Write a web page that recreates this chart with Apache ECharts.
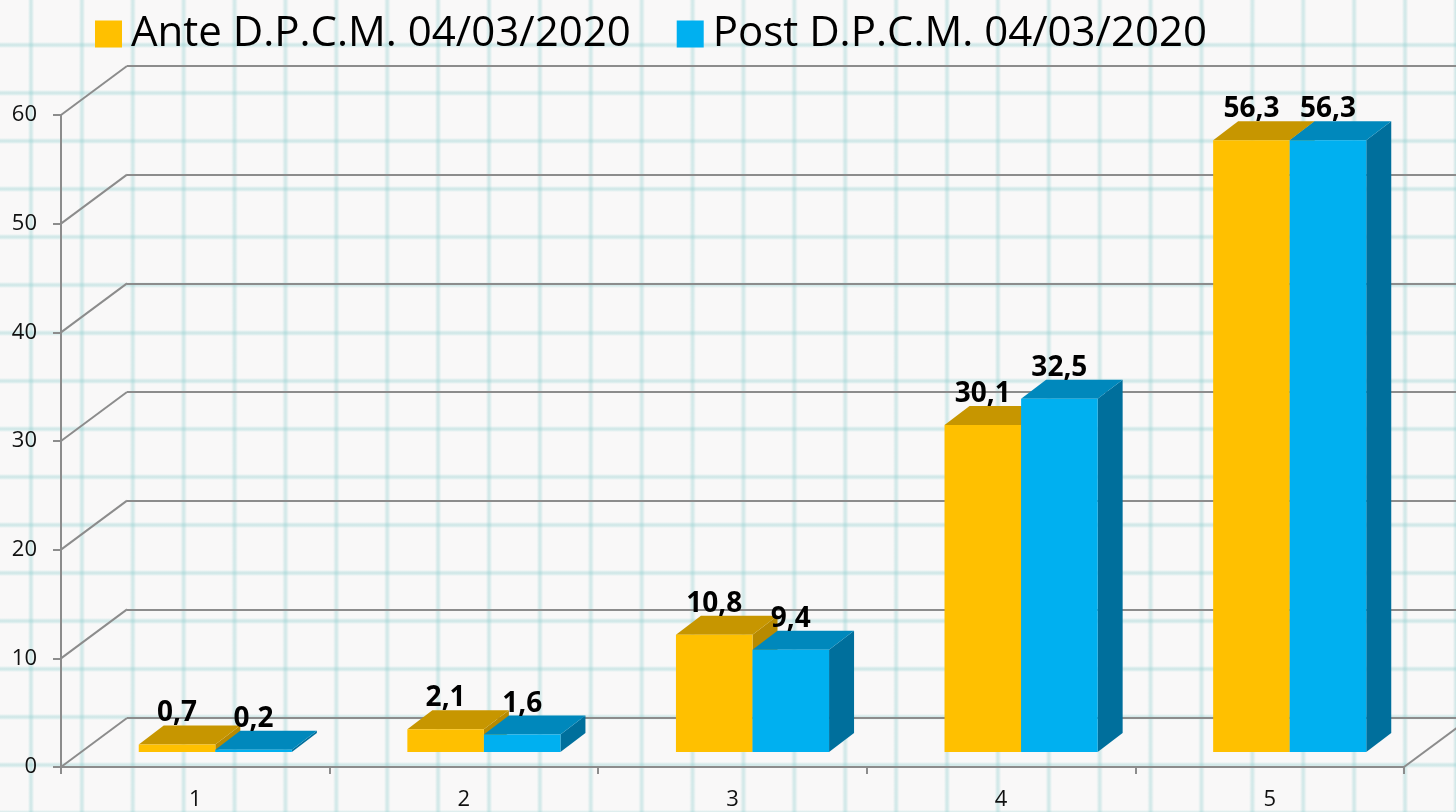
<!DOCTYPE html>
<html>
<head>
<meta charset="utf-8">
<script src="https://cdn.jsdelivr.net/npm/echarts@6/dist/echarts.min.js"></script>
<style>
    html, body { margin:0; padding:0; }
    /* carta a quadretti */
    #main {
        width:1456px; height:812px;
        background-color:#f9f8f8;
        background-image:
            linear-gradient(90deg, rgba(140,205,205,0) 0, rgba(140,205,205,.18) 1px, rgba(140,205,205,.4) 3px, rgba(140,205,205,.18) 5px, rgba(140,205,205,0) 6px, rgba(140,205,205,0) 100%),
            linear-gradient(180deg, rgba(140,205,205,0) 0, rgba(140,205,205,.18) 1px, rgba(140,205,205,.4) 3px, rgba(140,205,205,.18) 5px, rgba(140,205,205,0) 6px, rgba(140,205,205,0) 100%);
        background-size:50.9px 100%, 100% 48px;
        background-position:28px 0, 0 42px;
    }
</style>
</head>
<body>
<div id="main"></div>
<script>
    // dati
    var categories = ['1', '2', '3', '4', '5'];
    var anteData = [0.7, 2.1, 10.8, 30.1, 56.3];
    var postData = [0.2, 1.6, 9.4, 32.5, 56.3];
    var seriesNames = ['Ante D.P.C.M. 04/03/2020', 'Post D.P.C.M. 04/03/2020'];
    var yTicks = [0, 10, 20, 30, 40, 50, 60];

    // colori: fronte, sopra, lato
    var colors = [
        { front:'#FFC000', top:'#C79600', side:'#B88A00' },
        { front:'#00B0F0', top:'#0088BC', side:'#006F9C' }
    ];

    // profondita prospettica
    var wallDx = 66, wallDy = -49;
    var barShiftX = 20, barShiftY = -15;
    var barDx = 25, barDy = -19;

    var myChart = echarts.init(document.getElementById('main'));

    function barRender(idx){
        return function (params, api) {
            var cat = api.value(0);
            var val = api.value(1);
            var base = api.coord([cat, 0]);
            var top = api.coord([cat, val]);
            var band = api.size([1, 0])[0];
            var w = band * 0.285;
            var cx = base[0] + barShiftX;
            var x0 = idx === 0 ? cx - w : cx;
            var x1 = x0 + w;
            var yb = base[1] + barShiftY;
            var yt = top[1] + barShiftY;
            var c = colors[idx];
            var label = String(val).replace('.', ',');
            return {
                type:'group',
                children:[
                    { type:'polygon', shape:{ points:[[x1,yb],[x1+barDx,yb+barDy],[x1+barDx,yt+barDy],[x1,yt]] }, style:{ fill:c.side } },
                    { type:'polygon', shape:{ points:[[x0,yt],[x1,yt],[x1+barDx,yt+barDy],[x0+barDx,yt+barDy]] }, style:{ fill:c.top } },
                    { type:'rect', shape:{ x:x0, y:yt, width:w, height:yb-yt }, style:{ fill:c.front } },
                    { type:'text', x:(x0+x1)/2, y:yt+barDy-12, style:{
                        text:label, fill:'#000', font:'bold 28px "Open Sans", sans-serif',
                        align:'center', verticalAlign:'middle' } }
                ]
            };
        };
    }

    var option = {
        animation:false,
        legend:{
            left:90, top:8,
            itemWidth:27, itemHeight:27, itemGap:46,
            icon:'rect',
            textStyle:{ fontSize:42, color:'#000', fontFamily:'"Open Sans", sans-serif', padding:[0,0,0,4] },
            data:seriesNames
        },
        grid:[
            { left:61, right:52, top:115, bottom:45 },
            { left:61+wallDx, right:52-wallDx, top:115+wallDy, bottom:45-wallDy }
        ],
        xAxis:[
            {
                type:'category', gridIndex:0, data:categories,
                axisLine:{ lineStyle:{ color:'#8c8c8c', width:2 } },
                axisTick:{ show:true, length:7, lineStyle:{ color:'#8c8c8c', width:2 } },
                axisLabel:{ color:'#111', fontSize:22, margin:22, fontFamily:'"Open Sans", sans-serif' }
            },
            { type:'category', gridIndex:1, data:categories, show:false }
        ],
        yAxis:[
            {
                type:'value', gridIndex:0, min:0, max:60, interval:10,
                axisLine:{ show:true, lineStyle:{ color:'#8c8c8c', width:2 } },
                axisTick:{ show:true, length:8, lineStyle:{ color:'#8c8c8c', width:2 } },
                axisLabel:{ color:'#111', fontSize:22, margin:24, fontFamily:'"Open Sans", sans-serif' },
                splitLine:{ show:false }
            },
            {
                type:'value', gridIndex:1, min:0, max:60, interval:10,
                axisLine:{ show:false }, axisTick:{ show:false }, axisLabel:{ show:false },
                splitLine:{ show:true, lineStyle:{ color:'#8c8c8c', width:2 } }
            }
        ],
        series:[
            // parete laterale e pavimento: diagonali
            {
                type:'custom', xAxisIndex:0, yAxisIndex:0, silent:true,
                data:yTicks.map(function (v) { return [0, v]; }),
                renderItem:function (params, api) {
                    var cs = params.coordSys;
                    var y = api.coord([0, api.value(1)])[1];
                    var lines = [{ type:'line', shape:{ x1:cs.x, y1:y, x2:cs.x+wallDx, y2:y+wallDy }, style:{ stroke:'#8c8c8c', lineWidth:2 } }];
                    if (api.value(1) === 0) {
                        lines.push({ type:'line', shape:{ x1:cs.x+cs.width, y1:y, x2:cs.x+cs.width+wallDx, y2:y+wallDy }, style:{ stroke:'#8c8c8c', lineWidth:2 } });
                    }
                    return { type:'group', children:lines };
                }
            },
            {
                name:seriesNames[0], type:'custom', xAxisIndex:0, yAxisIndex:0, z:3,
                itemStyle:{ color:colors[0].front },
                data:anteData.map(function (v, i) { return [i, v]; }),
                renderItem:barRender(0)
            },
            {
                name:seriesNames[1], type:'custom', xAxisIndex:0, yAxisIndex:0, z:4,
                itemStyle:{ color:colors[1].front },
                data:postData.map(function (v, i) { return [i, v]; }),
                renderItem:barRender(1)
            }
        ]
    };

    myChart.setOption(option);
</script>
</body>
</html>
